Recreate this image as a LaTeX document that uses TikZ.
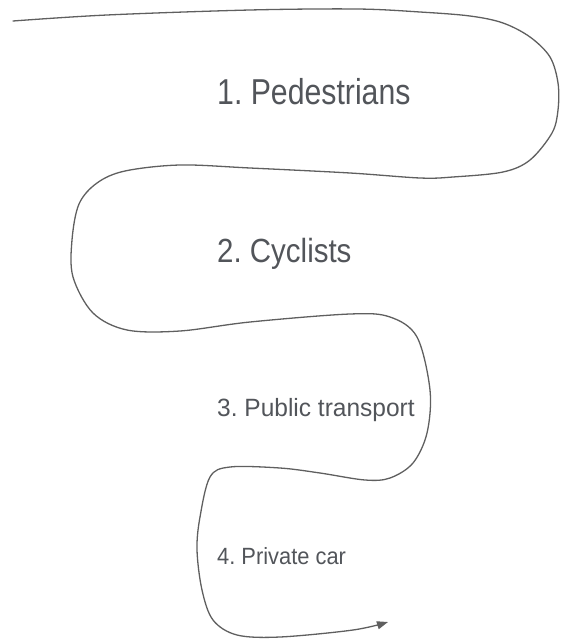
\documentclass[tikz,border=0pt]{standalone}
\usepackage{fontspec}
\setmainfont{Liberation Sans}
\usepackage{graphicx}
\usetikzlibrary{arrows.meta}

\definecolor{roadgray}{RGB}{95,95,95}
\definecolor{labelgray}{RGB}{82,85,90}

\tikzset{
  road/.style={draw=roadgray, line width=1.3pt, line cap=round, line join=round},
  stage/.style={anchor=base west, inner sep=0pt, text=labelgray},
}
\frenchspacing

\begin{document}
\begin{tikzpicture}[x=1pt, y=-1pt]

  \useasboundingbox (0,0) rectangle (560,639);

  % the winding road, from the top left down to the arrow
  \draw [road, -{Triangle[length=11pt, width=8pt]}]
    plot [smooth, tension=0.55] coordinates {
      (13,21) (107,15) (250,10) (357,9) (420,12) (470,16) (503,23)
      (530,37) (550,57) (558,83) (558,110) (552,133) (530,160) (503,172)
      (453,177) (420,178) (350,173) (250,168) (180,165) (125,171) (97,183)
      (79,204) (72,240) (73,277) (93,313) (127,330) (180,331) (250,322)
      (350,314) (390,317) (417,337) (430,390) (427,433) (413,463) (390,478)
      (365,480) (320,473) (280,468) (230,467) (210,477) (200,517) (197,550)
      (202,590) (213,620) (237,635) (280,637) (353,630) (388,622)};

  \node [stage, font=\fontsize{36}{36}\selectfont] (walk) at (217,105)
    {\scalebox{0.84}[1]{1. Pedestrians}};
  \node [stage, font=\fontsize{33.5}{33.5}\selectfont] (bike) at (217,262)
    {\scalebox{0.88}[1]{2. Cyclists}};
  \node [stage, font=\fontsize{25}{25}\selectfont] (bus) at (217,416)
    {\scalebox{0.98}[1]{3. Public transport}};
  \node [stage, font=\fontsize{23.5}{23.5}\selectfont] (car) at (217,564)
    {\scalebox{0.93}[1]{4. Private car}};

\end{tikzpicture}
\end{document}
